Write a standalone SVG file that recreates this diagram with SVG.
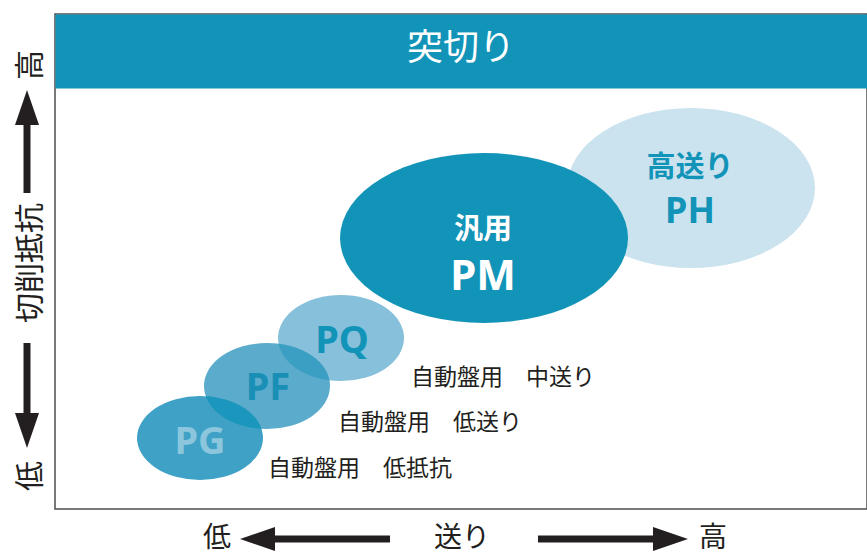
<svg xmlns="http://www.w3.org/2000/svg" width="867" height="554" viewBox="0 0 867 554">
<style>
text{font-family:"Noto Sans","Noto Sans CJK JP",sans-serif;}
.lbl{font-size:23px;fill:#231f20;}
.axis{font-size:30px;fill:#231f20;text-anchor:middle;}
.bot{font-family:"Noto Sans CJK JP",sans-serif;font-size:28px;}
.nm{font-weight:700;text-anchor:middle;}
</style>
<defs>
<clipPath id="cPQ"><ellipse cx="341" cy="338" rx="63" ry="43"/></clipPath>
<clipPath id="cPF"><ellipse cx="267" cy="386" rx="63" ry="43"/></clipPath>
<marker id="ah" viewBox="0 0 35 24" refX="0" refY="12" markerWidth="35" markerHeight="24" orient="auto" markerUnits="userSpaceOnUse"><path d="M0,0L35,12L0,24z" fill="#231f20"/></marker>
</defs>
<rect width="867" height="554" fill="#fff"/>
<g id="frame">
<rect x="55" y="14" width="812" height="495" fill="#fff" stroke="#4d4d4d" stroke-width="1.5"/>
<rect x="55.5" y="14.5" width="812" height="74" fill="#1293b8"/>
<text x="461" y="60" font-size="36" fill="#fff" text-anchor="middle">突切り</text>
</g>
<g id="PH">
<ellipse cx="691" cy="188" rx="124" ry="80" fill="#cbe3ef"/>
<text class="nm" x="690" y="177" font-size="29" fill="#1293b8">高送り</text>
<text class="nm" x="690" y="223" font-size="36" fill="#1293b8">PH</text>
</g>
<g id="PQ">
<ellipse cx="341" cy="338" rx="63" ry="43" fill="#87c0da"/>
<text class="nm" x="342" y="353" font-size="38" fill="#1293b8">PQ</text>
</g>
<g id="PM">
<ellipse cx="484" cy="238" rx="144" ry="85" fill="#1293b8"/>
<text class="nm" x="483" y="239" font-size="29" fill="#fff">汎用</text>
<text class="nm" x="483" y="290" font-size="42" fill="#fff">PM</text>
</g>
<g id="PF">
<ellipse cx="267" cy="386" rx="63" ry="43" fill="#5aabcc"/>
<ellipse cx="267" cy="386" rx="63" ry="43" fill="#3b9fc4" clip-path="url(#cPQ)"/>
<text class="nm" x="268" y="400" font-size="38" fill="#1a8fb5">PF</text>
</g>
<g id="PG">
<ellipse cx="200" cy="438" rx="63" ry="42" fill="#3ea1c5"/>
<ellipse cx="200" cy="438" rx="63" ry="42" fill="#1b96bd" clip-path="url(#cPF)"/>
<text class="nm" x="200" y="454" font-size="38" fill="#8cc6dd">PG</text>
</g>
<g id="labels">
<text class="lbl" x="411" y="385">自動盤用　中送り</text>
<text class="lbl" x="338" y="430">自動盤用　低送り</text>
<text class="lbl" x="268" y="476">自動盤用　低抵抗</text>
</g>
<g id="connectors" stroke="#231f20" stroke-width="7" fill="none">
<line x1="27" y1="193" x2="27" y2="125" marker-end="url(#ah)"/>
<line x1="27" y1="343" x2="27" y2="413" marker-end="url(#ah)"/>
<line x1="390" y1="539" x2="275" y2="539" marker-end="url(#ah)"/>
<line x1="538" y1="539" x2="653" y2="539" marker-end="url(#ah)"/>
</g>
<g id="axes">
<text class="axis" transform="translate(28,65) rotate(-90)" dominant-baseline="central">高</text>
<text class="axis" transform="translate(28,263) rotate(-90)" dominant-baseline="central" font-size="32">切削抵抗</text>
<text class="axis" transform="translate(28,476) rotate(-90)" dominant-baseline="central">低</text>
<text class="axis bot" x="217" y="547">低</text>
<text class="axis bot" x="462" y="547">送り</text>
<text class="axis bot" x="713" y="547">高</text>
</g>
</svg>
